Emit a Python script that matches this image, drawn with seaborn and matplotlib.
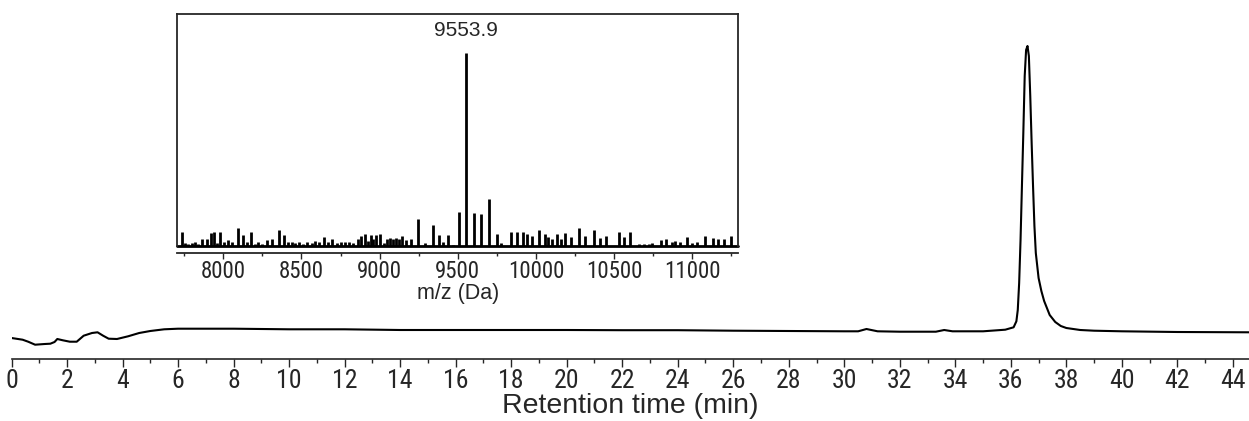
import numpy as np
import pandas as pd
import seaborn as sns
import matplotlib.pyplot as plt
from matplotlib.ticker import MultipleLocator

# chromatogram (retention time in min, detector signal in a.u.)
rt_min = [0, 0.4, 0.6, 0.85, 1.2, 1.4, 1.55, 1.65, 1.85, 2.1,
          2.35, 2.6, 2.9, 3.1, 3.3, 3.5, 3.8, 4.2, 4.6, 5.0,
          5.5, 6, 7, 8, 9, 10, 12, 14, 16, 18,
          20, 22, 24, 26, 28, 30, 30.5, 30.8, 31.2, 32,
          33.3, 33.6, 33.9, 35, 35.8, 36.1, 36.2, 36.25, 36.3, 36.35,
          36.4, 36.45, 36.5, 36.55, 36.6, 36.65, 36.7, 36.75, 36.8, 36.85,
          36.9, 37.0, 37.1, 37.2, 37.4, 37.6, 37.8, 38.0, 38.5, 39,
          40, 42, 44.6]
signal = [21, 19.3, 17.3, 14.3, 15, 15.3, 17, 20, 18.7, 17.3,
          17.3, 23.3, 26, 26.7, 23.3, 20.3, 20, 22.7, 26, 28,
          29.7, 30.3, 30.3, 30.3, 30, 29.7, 29.7, 29, 29, 29,
          29, 28.8, 28.8, 28.3, 28, 27.7, 27.7, 30, 27.7, 27.3,
          27.3, 29, 27.7, 27.7, 29.3, 31.7, 37.7, 49, 76, 119,
          173, 226, 283, 309, 313, 303, 263, 216, 173, 133,
          106, 81, 68, 58, 44, 37, 33, 31, 29, 28.3,
          27.7, 27, 26.7]

# deconvoluted mass spectrum (inset)
mz_da = [7738, 7755, 7776, 7798, 7819, 7840, 7862, 7894, 7921, 7942,
         7960, 7979, 8005, 8032, 8054, 8096, 8128, 8150, 8177, 8203,
         8224, 8250, 8278, 8310, 8356, 8390, 8416, 8437, 8459, 8484,
         8512, 8533, 8567, 8588, 8614, 8645, 8668, 8694, 8726, 8752,
         8778, 8804, 8831, 8859, 8881, 8907, 8924, 8945, 8958, 8975,
         9003, 9030, 9045, 9065, 9085, 9103, 9121, 9145, 9170, 9200,
         9248, 9290, 9340, 9380, 9405, 9438, 9470, 9505, 9553.9, 9605,
         9648, 9700, 9748, 9775, 9838, 9880, 9915, 9945, 9975, 10022,
         10058, 10078, 10105, 10135, 10160, 10184, 10225, 10273, 10315, 10370,
         10410, 10450, 10530, 10560, 10603, 10660, 10690, 10720, 10745, 10798,
         10830, 10870, 10890, 10920, 10964, 11000, 11030, 11083, 11130, 11165,
         11200, 11250]
rel_int = [7.2, 1.4, 1.0, 1.4, 1.7, 1.0, 3.4, 3.3, 6.5, 6.9,
           1.4, 7.0, 2.0, 3.2, 1.7, 9.4, 5.8, 2.0, 7.0, 1.0,
           1.7, 1.0, 2.8, 3.5, 8.0, 5.3, 2.0, 1.7, 1.4, 1.7,
           1.0, 1.7, 1.4, 2.6, 1.7, 4.5, 2.0, 3.5, 1.4, 1.7,
           2.0, 2.0, 1.4, 3.6, 5.2, 6.2, 2.6, 5.6, 3.4, 5.5,
           6.0, 1.5, 3.5, 3.8, 3.6, 4.0, 3.4, 5.2, 3.1, 3.4,
           13.6, 1.6, 10.7, 5.5, 1.7, 5.8, 0.5, 17.2, 100, 16.8,
           16.4, 24.3, 6.3, 1.5, 7.3, 7.2, 6.9, 6.0, 5.2, 8.2,
           6.0, 4.4, 3.5, 6.0, 3.4, 6.5, 4.3, 9.0, 5.2, 8.3,
           3.8, 5.2, 6.9, 4.3, 6.9, 0.8, 0.8, 0.9, 1.2, 3.1,
           3.4, 2.0, 2.6, 1.7, 4.3, 1.5, 1.7, 4.8, 3.8, 3.4,
           3.4, 5.2]
peak_mz = 9553.9

sns.set_style("ticks")
plt.rcParams['font.family'] = ['Liberation Sans', 'DejaVu Sans']
narrow = ['Roboto Condensed', 'Archivo Narrow', 'Liberation Sans']

W, H = 1249, 421
fig = plt.figure(figsize=(W / 100, H / 100), dpi=100)

# main chromatogram axes: 0 min at x=11.5 px, axis line at y=359 px
ax = fig.add_axes([11.5 / W, (H - 359) / H, (W - 11.5) / W, 359 / H])
df = pd.DataFrame({"rt": rt_min, "signal": signal})
sns.lineplot(data=df, x="rt", y="signal", ax=ax, color="black",
             linewidth=1.5, estimator=None, sort=False)
ax.set_xlim(0, 44.58)
ax.set_ylim(0, 359)
for s in ["left", "right", "top"]:
    ax.spines[s].set_visible(False)
ax.spines["bottom"].set_linewidth(1.2)
ax.yaxis.set_visible(False)
ax.xaxis.set_major_locator(MultipleLocator(2))
ax.xaxis.set_minor_locator(MultipleLocator(1))
ax.tick_params(axis="x", which="major", length=5.5, width=1.0, pad=1.5, labelsize=18.5)
ax.tick_params(axis="x", which="minor", length=3, width=1.0)
for lab in ax.get_xticklabels():
    lab.set_family(narrow)
ax.set_xlabel("Retention time (min)", fontsize=20.5, labelpad=0)
ax.set_facecolor("none")

# inset mass spectrum: box from x 177-738 px, y 14-246 px
axi = fig.add_axes([177.3 / W, (H - 245.7) / H, (738.3 - 177.3) / W, (245.7 - 14) / H])
axi.vlines(mz_da, 0, rel_int, color="black", linewidth=2.0)
axi.set_xlim(7706, 11294)
axi.set_ylim(0, 120)
axi.yaxis.set_visible(False)
for s in ["left", "right", "top"]:
    axi.spines[s].set_linewidth(1.3)
axi.spines["bottom"].set_position(("outward", 5.3))
axi.spines["bottom"].set_linewidth(1.3)
axi.plot([0, 1], [0, 0], transform=axi.transAxes, color="black",
         linewidth=2.0, clip_on=False)
axi.xaxis.set_major_locator(MultipleLocator(500))
axi.xaxis.set_minor_locator(MultipleLocator(250))
axi.tick_params(axis="x", which="major", length=4, width=1.0, pad=1, labelsize=16.5)
axi.tick_params(axis="x", which="minor", length=2.5, width=1.0)
for lab in axi.get_xticklabels():
    lab.set_family(narrow)
axi.set_xlabel("m/z (Da)", fontsize=15.5, labelpad=0)
axi.annotate(f"{peak_mz:.1f}", xy=(peak_mz, 100), xytext=(0, 9),
             textcoords="offset points", ha="center", va="bottom", fontsize=15)

fig.savefig("out.png", dpi=100)
